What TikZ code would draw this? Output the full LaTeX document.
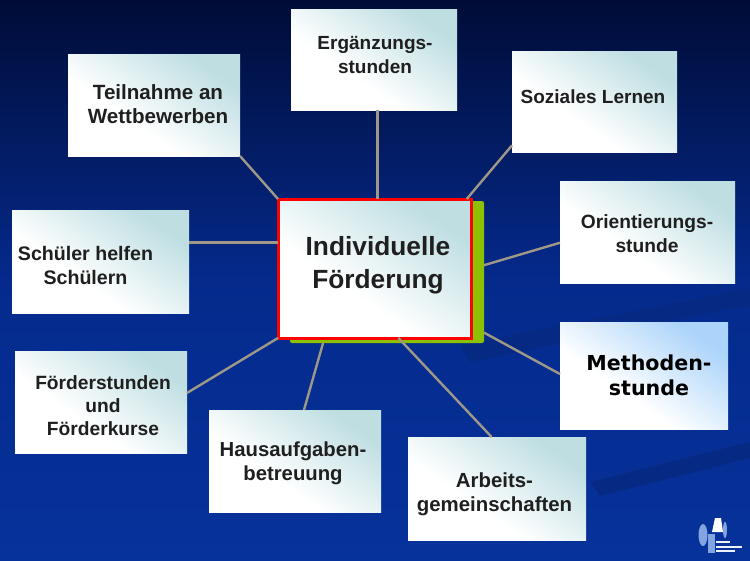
\documentclass[tikz,border=0pt]{standalone}
\usepackage{fontspec}
\setmainfont{Liberation Sans}
\newfontfamily\widefont{DejaVu Sans}
\definecolor{navytop}{RGB}{0,12,55}
\definecolor{navymid}{RGB}{5,42,140}
\definecolor{navylow}{RGB}{6,50,155}
\definecolor{streak}{RGB}{6,42,132}
\definecolor{linegrey}{RGB}{158,152,135}
\definecolor{tealcorner}{RGB}{190,222,226}
\definecolor{skycorner}{RGB}{172,212,250}
\definecolor{leafgreen}{RGB}{140,192,0}
\definecolor{logoblue}{RGB}{130,165,225}
\pgfdeclareverticalshading{tealfade}{100bp}{%
  color(0bp)=(white); color(25bp)=(white); color(40bp)=(white); color(74bp)=(tealcorner); color(100bp)=(tealcorner)}
\pgfdeclareverticalshading{skyfade}{100bp}{%
  color(0bp)=(white); color(25bp)=(white); color(40bp)=(white); color(74bp)=(skycorner); color(100bp)=(skycorner)}
\tikzset{
  card/.style={inner sep=0pt, outer sep=0pt, shading=tealfade, shading angle=-35},
  skycard/.style={card, shading=skyfade, shading angle=-35},
  lbl/.style={align=center, inner sep=0pt, text=black!88, font=\bfseries\fontsize{19}{24}\selectfont},
  link/.style={draw=linegrey, line width=2.4pt},
}
\begin{document}
\begin{tikzpicture}[x=1pt,y=-1pt]
  \shade[top color=navytop, bottom color=navylow, middle color=navymid] (0,0) rectangle (750,560);
  \useasboundingbox (0,0) rectangle (750,560);
  % streaks in the background
  \fill[streak] (460,345) -- (750,288) -- (750,305) -- (470,362) -- cycle;
  \fill[streak] (590,482) -- (750,442) -- (750,458) -- (600,496) -- cycle;
  % the boxes
  \node[fill=leafgreen, rounded corners=2pt, minimum width=194pt, minimum height=142pt, inner sep=0pt, outer sep=0pt] (backing) at (387,272) {};
  \node[card, minimum width=166pt, minimum height=101pt] (ergaenzung) at (374,59.5) {};
  \node[card, minimum width=172pt, minimum height=102pt] (teilnahme) at (154,105) {};
  \node[card, minimum width=165pt, minimum height=101pt] (soziales) at (594.5,101.5) {};
  \node[card, minimum width=175pt, minimum height=102pt] (orientierung) at (647.5,232) {};
  \node[skycard, minimum width=168pt, minimum height=107pt] (methoden) at (644,375.5) {};
  \node[card, minimum width=178pt, minimum height=103pt] (arbeits) at (497,488.5) {};
  \node[card, minimum width=172pt, minimum height=102pt] (hausaufgaben) at (295,461) {};
  \node[card, minimum width=172pt, minimum height=102pt] (foerderstunden) at (101,402) {};
  \node[card, minimum width=177pt, minimum height=103pt] (schueler) at (100.5,261.5) {};
  \node[card, draw=red, line width=3pt, minimum width=193pt, minimum height=139pt] (centre) at (374.5,268.5) {};
  % the connectors
  \draw[link] (ergaenzung.-86.6) -- (ergaenzung.-86.6 |- centre.north);
  \draw[link] (teilnahme.south east) -- (centre.north west);
  \draw[link] (soziales.208.3) -- (centre.37);
  \draw[link] (orientierung.187.8) -- (backing.4);
  \draw[link] (methoden.179) -- (backing.-32.2);
  \draw[link] (arbeits.96.6) -- (centre.-71.3);
  \draw[link] (hausaufgaben.80) -- (backing.228.9);
  \draw[link] (foerderstunden.6.6) -- (centre.south west);
  \draw[link] (schueler.12.4) -- (schueler.12.4 -| centre.west);
  % the texts
  \node[lbl, font=\bfseries\fontsize{19}{24}\selectfont] (ergaenzungtext) at (375,55) {Ergänzungs-\\stunden};
  \node[lbl, font=\bfseries\fontsize{20.6}{24}\selectfont] (teilnahmetext) at (158,104) {Teilnahme an\\Wettbewerben};
  \node[lbl] (sozialestext) at (593,97) {Soziales Lernen};
  \node[lbl, font=\bfseries\fontsize{19.2}{24}\selectfont] (orientierungtext) at (647,234) {Orientierungs-\\stunde};
  \node[lbl, text=black, font=\widefont\bfseries\fontsize{20.6}{25}\selectfont] (methodentext) at (649,375) {Methoden-\\stunde};
  \node[lbl, font=\bfseries\fontsize{20.4}{24}\selectfont] (arbeitstext) at (494.5,494) {Arbeits-\\gemeinschaften};
  \node[lbl, font=\bfseries\fontsize{20.3}{24}\selectfont] (hausaufgabentext) at (293,463) {Hausaufgaben-\\betreuung};
  \node[lbl, font=\bfseries\fontsize{19.2}{23}\selectfont] (foerderstundentext) at (103,406) {Förderstunden\\und\\Förderkurse};
  \node[lbl, font=\bfseries\fontsize{19.6}{24}\selectfont] (schuelertext) at (85.5,265) {Schüler helfen\\Schülern};
  \node[lbl, font=\bfseries\fontsize{26.3}{33}\selectfont] (centretext) at (378,265) {Individuelle\\Förderung};
  % the logo
  \fill[logoblue] (703,535) ellipse (4.5pt and 11pt);
  \fill[logoblue] (725,530) ellipse (2pt and 8pt);
  \fill[white] (712,532) -- (715,518) -- (721,518) -- (723,532) -- cycle;
  \fill[logoblue] (708,534) rectangle (715,553);
  \fill[white!85!logoblue] (716,541) rectangle (730,543);
  \fill[white!85!logoblue] (716,546) rectangle (742,548);
  \fill[white!85!logoblue] (716,550) rectangle (735,551.5);
\end{tikzpicture}
\end{document}
